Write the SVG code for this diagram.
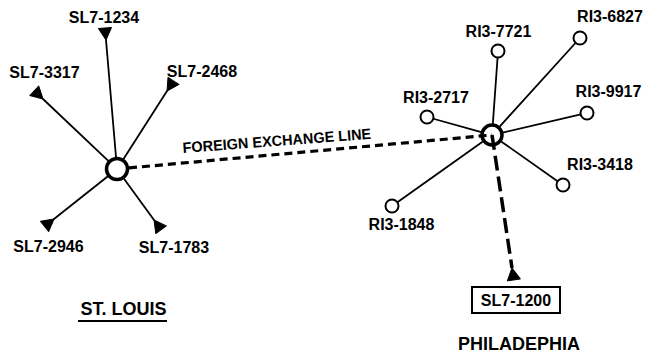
<svg xmlns="http://www.w3.org/2000/svg" xmlns:xlink="http://www.w3.org/1999/xlink" width="662" height="356" viewBox="0 0 662 356">
<style>
.lbl{font-family:"Liberation Sans",Arial,sans-serif;font-size:16px;font-weight:bold;fill:#000;text-anchor:middle}
.title{font-family:"Liberation Sans",Arial,sans-serif;font-size:18px;font-weight:bold;fill:#000;text-anchor:middle}
.spoke{stroke:#000;stroke-width:1.8;fill:none;stroke-linecap:round}
.fx{stroke:#000;stroke-width:3.2;fill:none;stroke-dasharray:8 5}
.ext{stroke:#000;stroke-width:3.5;fill:none;stroke-dasharray:15 6}
.hub{fill:#fff;stroke:#000;stroke-width:3.5}
.sta{fill:#fff;stroke:#000;stroke-width:2}
.tri{fill:#000;stroke:#000;stroke-width:1;stroke-linejoin:round}
</style>
<defs>
<path id="tri" class="tri" d="M0,0 L12,-6.5 L12,6.5 Z"/>
</defs>
<rect width="662" height="356" fill="#fff"/>
<g id="connectors">
<line class="spoke" x1="116" y1="157" x2="106" y2="40"/>
<line class="spoke" x1="108.3" y1="160.8" x2="43" y2="99"/>
<line class="spoke" x1="123.5" y1="158.9" x2="167" y2="91"/>
<line class="spoke" x1="107.6" y1="176.5" x2="54" y2="219"/>
<line class="spoke" x1="124" y1="178.7" x2="154" y2="220"/>
<line class="spoke" x1="492.9" y1="123" x2="497.5" y2="58.5"/>
<line class="spoke" x1="500.1" y1="126.1" x2="575" y2="43.5"/>
<line class="spoke" x1="480.4" y1="131.8" x2="434.2" y2="119"/>
<line class="spoke" x1="503.7" y1="132.3" x2="579.7" y2="114.7"/>
<line class="spoke" x1="501.8" y1="141.9" x2="556.9" y2="180.7"/>
<line class="spoke" x1="482.2" y1="141.9" x2="398.1" y2="201.7"/>
<line id="foreign-exchange-line" class="fx" x1="129" y1="167.9" x2="492" y2="135"/>
<line class="ext" x1="492" y1="135" x2="512" y2="268"/>
<text class="lbl" x="183" y="153" text-anchor="start" textLength="189" lengthAdjust="spacingAndGlyphs" style="font-size:15px;text-anchor:start" transform="rotate(-4.3 183 153)">FOREIGN EXCHANGE LINE</text>
</g>
<g id="st-louis-hub"><circle class="hub" cx="117" cy="169" r="10.5"/></g>
<g id="sl7-1234"><use xlink:href="#tri" transform="translate(106,40) rotate(-94.9)"/><text class="lbl" x="104" y="23">SL7-1234</text></g>
<g id="sl7-3317"><use xlink:href="#tri" transform="translate(43,99) rotate(-136.6)"/><text class="lbl" x="44.5" y="78">SL7-3317</text></g>
<g id="sl7-2468"><use xlink:href="#tri" transform="translate(167,91) rotate(-57.3)"/><text class="lbl" x="202" y="77">SL7-2468</text></g>
<g id="sl7-2946"><use xlink:href="#tri" transform="translate(54,219) rotate(141.6)"/><text class="lbl" x="48.5" y="252">SL7-2946</text></g>
<g id="sl7-1783"><use xlink:href="#tri" transform="translate(154,220) rotate(54)"/><text class="lbl" x="174" y="253">SL7-1783</text></g>
<g id="st-louis"><text class="title" x="123.5" y="315">ST. LOUIS</text><line x1="78" y1="321" x2="167" y2="321" stroke="#000" stroke-width="1.8"/></g>
<g id="philadelphia-hub"><circle class="hub" cx="492" cy="135" r="10" style="fill:none"/></g>
<g id="ri3-7721"><circle class="sta" cx="498" cy="51" r="6.5"/><text class="lbl" x="498.5" y="37">RI3-7721</text></g>
<g id="ri3-6827"><circle class="sta" cx="580" cy="38" r="6.5"/><text class="lbl" x="610" y="22">RI3-6827</text></g>
<g id="ri3-2717"><circle class="sta" cx="427" cy="117" r="6.5"/><text class="lbl" x="436" y="103">RI3-2717</text></g>
<g id="ri3-9917"><circle class="sta" cx="587" cy="113" r="6.5"/><text class="lbl" x="608.5" y="97">RI3-9917</text></g>
<g id="ri3-3418"><circle class="sta" cx="563" cy="185" r="6.5"/><text class="lbl" x="600" y="170">RI3-3418</text></g>
<g id="ri3-1848"><circle class="sta" cx="392" cy="206" r="6.5"/><text class="lbl" x="401.5" y="230">RI3-1848</text></g>
<g id="sl7-1200"><use xlink:href="#tri" transform="translate(512,268) rotate(81.4)"/><rect x="472" y="287" width="88" height="26" fill="#fff" stroke="#000" stroke-width="2"/><text class="lbl" x="516" y="306">SL7-1200</text></g>
<g id="philadephia"><text class="title" x="519" y="350">PHILADEPHIA</text></g>
</svg>
